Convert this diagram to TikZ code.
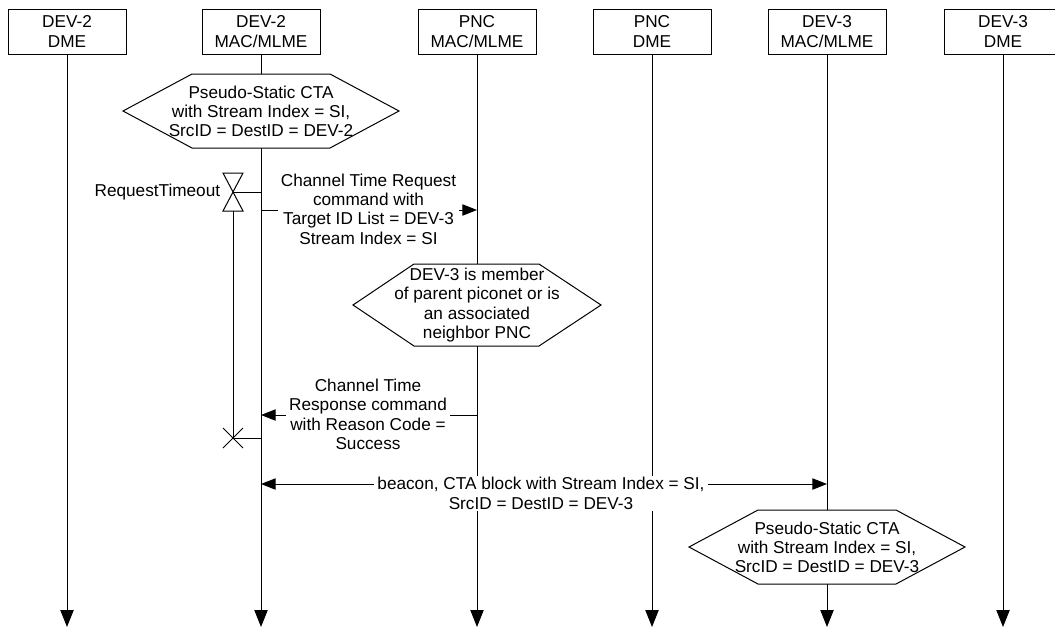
\documentclass[tikz,border=0pt]{standalone}
\usepackage{fontspec}
\setmainfont{Liberation Sans}
\usetikzlibrary{arrows.meta}

\tikzset{
  entity/.style={draw, minimum width=88.5pt, minimum height=33.75pt, inner sep=0pt, align=center},
  txt/.style={align=center, inner sep=1.5pt},
  wtxt/.style={txt, fill=white, inner xsep=2.5pt},
  hexa/.style={draw, fill=white},
  msg/.style={-{Triangle[length=11pt,width=8.5pt]}},
  life/.style={-{Triangle[length=12.75pt,width=10pt]}},
}

\begin{document}
\begin{tikzpicture}[x=0.75pt,y=0.75pt,yscale=-1,xscale=1,line width=0.75pt,font=\fontsize{12.9}{14.5}\selectfont]
\useasboundingbox (0,0) rectangle (1055,628);

% Entity boxes
\node[entity] (dme2) at (67,31.5) {DEV-2\\DME};
\node[entity] (mac2) at (261,31.5) {DEV-2\\MAC/MLME};
\node[entity] (macp) at (477,31.5) {PNC\\MAC/MLME};
\node[entity] (dmep) at (652,31.5) {PNC\\DME};
\node[entity] (mac3) at (827,31.5) {DEV-3\\MAC/MLME};
\node[entity] (dme3) at (1003,31.5) {DEV-3\\DME};

% Lifelines
\coordinate (bot) at (0,627);
\draw[life] (dme2.south) -- (dme2.south |- bot);
\draw[life] (mac2.south) -- (mac2.south |- bot);
\draw[life] (macp.south) -- (macp.south |- bot);
\draw[life] (dmep.south) -- (dmep.south |- bot);
\draw[life] (mac3.south) -- (mac3.south |- bot);
\draw[life] (dme3.south) -- (dme3.south |- bot);

%Shape: Hexagon, DEV-2 CTA
\draw[hexa] (123,111) -- (192,74) -- (330,74) -- (399,111) -- (330,148) -- (192,148) -- cycle;
\node[txt] (cta2) at (261,111.5) {Pseudo-Static CTA\\with Stream Index = SI,\\SrcID = DestID = DEV-2};

%Timer
\coordinate (tmr) at (233,192);
\coordinate (tmx) at (233,438);
\draw (223,173) -- (243,173) -- (223,211) -- (243,211) -- cycle;
\node[anchor=east, inner sep=1pt] (rqto) at (222,192) {RequestTimeout};
\draw (tmr) -- (tmr -| mac2);
\draw (233,211) -- (tmx);
\draw (223,428) -- (243,448) (223,448) -- (243,428);
\draw (tmx) -- (tmx -| mac2);

%Request
\coordinate (rq) at (0,210);
\draw[msg] (rq -| mac2) -- (rq -| macp);
\node[wtxt] (rqtxt) at (368.5,209) {Channel Time Request\\command with\\Target ID List = DEV-3\\Stream Index = SI};

%Shape: Hexagon, PNC check
\draw[hexa] (353,305) -- (414,264) -- (539,264) -- (601,305) -- (539,346) -- (414,346) -- cycle;
\node[txt] (chk) at (477,305) {DEV-3 is member\\of parent piconet or is\\an associated\\neighbor PNC};

%Response
\coordinate (rs) at (0,415);
\draw[msg] (rs -| macp) -- (rs -| mac2);
\node[wtxt] (rstxt) at (368,414.5) {Channel Time\\Response command\\with Reason Code =\\Success};

%Beacon
\coordinate (bc) at (0,484);
\draw[{Triangle[length=11pt,width=8.5pt]}-{Triangle[length=11pt,width=8.5pt]}] (bc -| mac2) -- (bc -| mac3);
\node[wtxt] (bctxt) at (541,493.5) {beacon, CTA block with Stream Index = SI,\\SrcID = DestID = DEV-3};

%Shape: Hexagon, DEV-3 CTA
\draw[hexa] (689,547) -- (758,510) -- (896,510) -- (965,547) -- (896,584) -- (758,584) -- cycle;
\node[txt] (cta3) at (827,547.5) {Pseudo-Static CTA\\with Stream Index = SI,\\SrcID = DestID = DEV-3};

\end{tikzpicture}
\end{document}
